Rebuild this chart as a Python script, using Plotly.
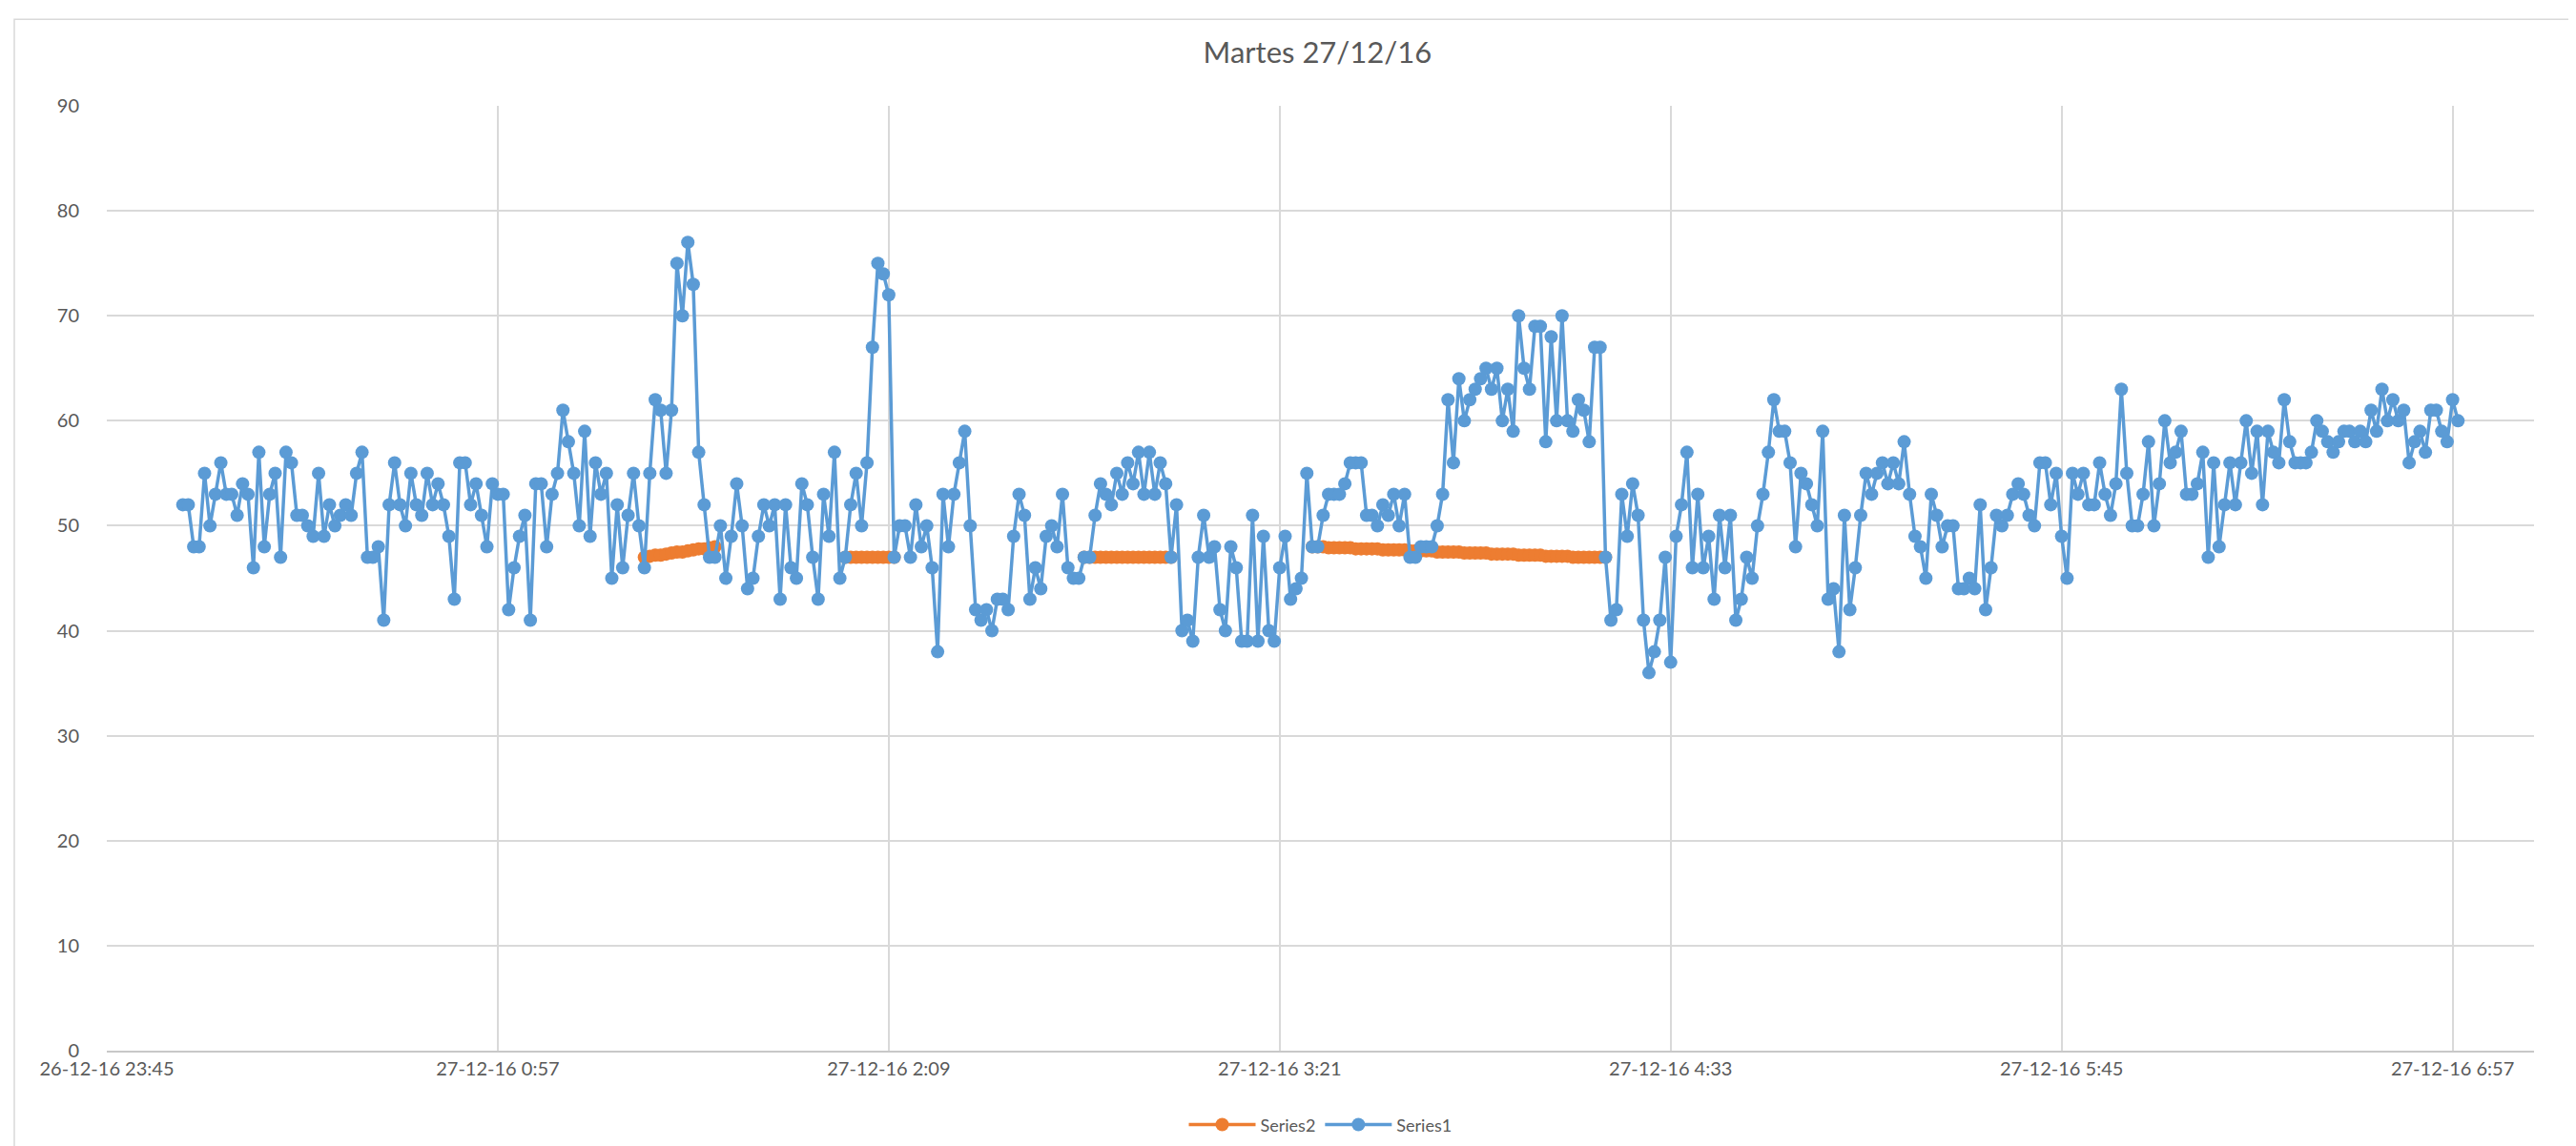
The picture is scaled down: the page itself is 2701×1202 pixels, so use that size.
import pandas as pd
import plotly.graph_objects as go

# ---------------- data ----------------
series1_start = "2016-12-26 23:59"          # first reading, one value per minute
series1_values = [
    52, 52, 48, 48, 55, 50, 53, 56, 53, 53, 51, 54, 53, 46, 57, 48, 53, 55, 47, 57,
    56, 51, 51, 50, 49, 55, 49, 52, 50, 51, 52, 51, 55, 57, 47, 47, 48, 41, 52, 56,
    52,
    50, 55, 52, 51, 55, 52, 54, 52, 49, 43, 56, 56, 52, 54, 51, 48, 54, 53, 53, 42,
    46, 49, 51, 41, 54, 54, 48, 53, 55, 61, 58, 55, 50, 59, 49, 56, 53, 55, 45, 52,
    46, 51, 55,
    50, 46, 55, 62, 61, 55, 61, 75, 70, 77, 73, 57, 52, 47, 47, 50, 45, 49, 54, 50,
    44, 45, 49, 52, 50, 52, 43, 52, 46, 45, 54, 52, 47, 43, 53, 49, 57, 45, 47, 52,
    55, 50,
    56, 67, 75, 74, 72, 47, 50, 50, 47, 52, 48, 50, 46, 38, 53, 48, 53, 56, 59, 50,
    42, 41, 42, 40, 43, 43, 42, 49, 53, 51, 43, 46, 44, 49, 50, 48, 53, 46, 45, 45,
    47, 47, 51, 54, 53, 52, 55, 53, 56, 54, 57, 53, 57, 53, 56, 54, 47, 52, 40, 41,
    39, 47, 51, 47, 48, 42, 40, 48, 46, 39, 39, 51, 39, 49, 40, 39, 46, 49, 43, 44,
    45, 55,
    48, 48, 51, 53, 53, 53, 54, 56, 56, 56, 51, 51, 50, 52, 51, 53, 50, 53, 47, 47,
    48, 48, 48, 50, 53, 62, 56, 64, 60, 62, 63, 64, 65, 63, 65, 60, 63, 59, 70, 65,
    63, 69, 69, 58,
    68, 60, 70, 60, 59, 62, 61, 58, 67, 67, 47, 41, 42, 53, 49, 54, 51, 41, 36, 38,
    41, 47, 37, 49, 52, 57, 46, 53, 46, 49, 43, 51, 46, 51, 41, 43, 47, 45, 50, 53,
    57, 62, 59,
    59, 56, 48, 55, 54, 52, 50, 59, 43, 44, 38, 51, 42, 46, 51, 55, 53, 55, 56, 54,
    56, 54, 58, 53, 49, 48, 45, 53, 51, 48, 50, 50, 44, 44, 45, 44, 52, 42, 46, 51,
    50, 51, 53, 54, 53, 51, 50, 56, 56, 52, 55, 49, 45, 55, 53, 55, 52, 52, 56, 53,
    51, 54, 63, 55, 50, 50, 53, 58, 50, 54, 60, 56, 57, 59, 53, 53, 54, 57, 47, 56,
    48, 52,
    56, 52, 56, 60, 55, 59, 52, 59, 57, 56, 62, 58, 56, 56, 56, 57, 60, 59, 58, 57,
    58, 59, 59, 58, 59, 58, 61, 59, 63, 60, 62, 60, 61, 56, 58, 59, 57, 61, 61, 59,
    58, 62, 60,
]

series2_seg1_start = "2016-12-27 01:24"
series2_seg1 = [47.0, 47.1, 47.2, 47.2, 47.3, 47.4, 47.5, 47.5, 47.6, 47.7, 47.8, 47.8, 47.9, 48.0]
series2_seg2_start = "2016-12-27 02:01"
series2_seg2 = [47, 47, 47, 47, 47, 47, 47, 47, 47, 47]
series2_seg3_start = "2016-12-27 02:45"
series2_seg3 = [47, 47, 47, 47, 47, 47, 47, 47, 47, 47, 47, 47, 47, 47, 47, 47, 47]
series2_seg4_start = "2016-12-27 03:27"
series2_seg4 = [48.0, 48.0, 48.0, 47.9, 47.9, 47.9, 47.9, 47.9, 47.8, 47.8, 47.8, 47.8, 47.8,
                47.7, 47.7, 47.7, 47.7, 47.7, 47.6, 47.6, 47.6, 47.6, 47.6, 47.5, 47.5, 47.5,
                47.5, 47.5, 47.4, 47.4, 47.4, 47.4, 47.4, 47.3, 47.3, 47.3, 47.3, 47.3, 47.2,
                47.2, 47.2, 47.2, 47.2, 47.1, 47.1, 47.1, 47.1, 47.1, 47.0, 47.0, 47.0, 47.0,
                47.0, 47.0, 47.0]

title_text = "Martes 27/12/16"
x_range = ["2016-12-26 23:45", "2016-12-27 07:12"]
x_tick0 = "2016-12-26 23:45"
y_ticks = [0, 10, 20, 30, 40, 50, 60, 70, 80, 90]

# ---------------- build ----------------
BLUE = "#5B9BD5"
ORANGE = "#ED7D31"
GREY = "#595959"
FONT = "Lato, Carlito, Calibri, sans-serif"

s1_x = [t.strftime("%Y-%m-%d %H:%M") for t in
        pd.date_range(series1_start, periods=len(series1_values), freq="min")]

s2_x, s2_y = [], []
for start, vals in [(series2_seg1_start, series2_seg1), (series2_seg2_start, series2_seg2),
                    (series2_seg3_start, series2_seg3), (series2_seg4_start, series2_seg4)]:
    xs = pd.date_range(start, periods=len(vals), freq="min")
    s2_x += [t.strftime("%Y-%m-%d %H:%M") for t in xs] + [None]
    s2_y += list(vals) + [None]

fig = go.Figure()
fig.add_trace(go.Scatter(
    x=s2_x, y=s2_y, name="Series2", mode="lines+markers", connectgaps=False,
    line=dict(color=ORANGE, width=3.5),
    marker=dict(color=ORANGE, size=14, line=dict(width=0)),
))
fig.add_trace(go.Scatter(
    x=s1_x, y=series1_values, name="Series1", mode="lines+markers",
    line=dict(color=BLUE, width=3.5),
    marker=dict(color=BLUE, size=14, line=dict(width=0)),
))

W, H = 2701, 1202
L, R, T, B = 104, 52, 103, 106
pw, ph = W - L - R, H - T - B

def px(x):
    return (x - L) / pw

def py(y):
    return (H - B - y) / ph

fig.update_layout(
    width=W, height=H,
    margin=dict(l=L, r=R, t=T, b=B),
    paper_bgcolor="white", plot_bgcolor="white",
    font=dict(family=FONT, color=GREY, size=20),
    title=dict(text=title_text, x=0.5085, xref="container", xanchor="center",
               y=1 - 47 / H, yref="container", yanchor="middle",
               font=dict(family=FONT, size=31, color=GREY)),
    showlegend=True,
    legend=dict(orientation="h", x=0.5, xref="paper", xanchor="center",
                y=py(1174), yanchor="middle", font=dict(size=18, color=GREY),
                itemwidth=70, traceorder="normal"),
    shapes=[dict(type="rect", xref="paper", yref="paper",
                 x0=px(7), x1=px(2694), y0=py(1199), y1=py(12),
                 line=dict(color="#d9d9d9", width=1.5), fillcolor="rgba(0,0,0,0)",
                 layer="below")],
)

fig.update_xaxes(
    type="date", range=x_range, tick0=x_tick0, dtick=72 * 60 * 1000,
    tickformat="%d-%m-%y %-H:%M", showgrid=True, gridcolor="#d9d9d9", gridwidth=1.5,
    showline=True, linecolor="#c8c8c8", linewidth=2, zeroline=False,
    ticks="", tickfont=dict(size=20, color=GREY, family=FONT),
)
fig.update_yaxes(
    range=[0, 90], tickvals=y_ticks, showgrid=True, gridcolor="#d9d9d9", gridwidth=1.5,
    zeroline=False, showline=False, ticks="", ticklabelstandoff=28,
    tickfont=dict(size=20, color=GREY, family=FONT),
)

fig.write_html("out.html")
